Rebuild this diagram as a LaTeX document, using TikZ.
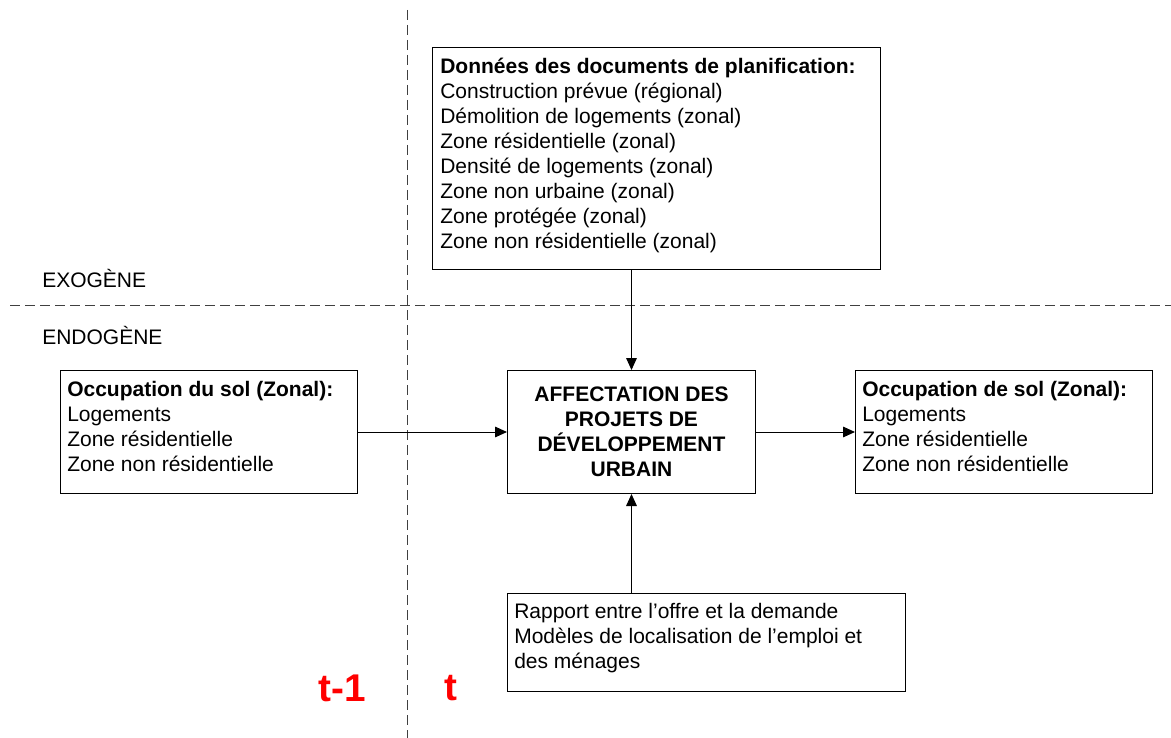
\documentclass[tikz,border=0pt]{standalone}
\usepackage{fontspec}
\setmainfont{Liberation Sans}
\usetikzlibrary{positioning, arrows.meta}

\begin{document}
\begin{tikzpicture}[x=0.75pt, y=-0.75pt,
    box/.style={draw=black, line width=0.75pt, anchor=north west, inner sep=0pt},
    boxtext/.style={anchor=north west, align=left, inner sep=0pt, font=\fontsize{15.75}{18.75}\selectfont},
    zonelabel/.style={anchor=west, inner sep=0pt, font=\fontsize{15.75}{18.75}\selectfont},
    divider/.style={draw=black!75, line width=0.75pt, dash pattern=on 7.5pt off 3.75pt},
    flow/.style={-{Triangle[length=9pt, width=8pt]}, line width=0.75pt},
    timelabel/.style={text=red, inner sep=0pt, font=\bfseries\fontsize{29}{31}\selectfont}]
    \useasboundingbox (0,0) rectangle (1171,738);

    \coordinate (vtop) at (407,10);
    \coordinate (vbot) at (407,738);
    \coordinate (hleft) at (10,305);
    \coordinate (hright) at (1171,305);
    \draw[divider] (vtop) -- (vbot);
    \draw[divider] (hleft) -- (hright);

    \node[zonelabel] (exo) at (42,278) {EXOGÈNE};
    \node[zonelabel] (endo) at (42,335) {ENDOGÈNE};

    \node[box, minimum width=336pt, minimum height=166.5pt] (plan) at (432,47) {};
    \node[boxtext] (plantext) at ([shift={(8,11)}]plan.north west) {\textbf{Données des documents de planification:}\\
        Construction prévue (régional)\\
        Démolition de logements (zonal)\\
        Zone résidentielle (zonal)\\
        Densité de logements (zonal)\\
        Zone non urbaine (zonal)\\
        Zone protégée (zonal)\\
        Zone non résidentielle (zonal)};

    \node[box, minimum width=222.75pt, minimum height=92.25pt] (occsol) at (60,370) {};
    \node[boxtext] (occsoltext) at ([shift={(7,11)}]occsol.north west) {\textbf{Occupation du sol (Zonal):}\\
        Logements\\
        Zone résidentielle\\
        Zone non résidentielle};

    \node[box, minimum width=186pt, minimum height=92.25pt, align=center, font=\bfseries\fontsize{15.75}{18.75}\selectfont] (centre) at (507,370) {AFFECTATION DES\\PROJETS DE\\DÉVELOPPEMENT\\URBAIN};

    \node[box, minimum width=222.75pt, minimum height=92.25pt] (occfin) at (855,370) {};
    \node[boxtext] (occfintext) at ([shift={(7,11)}]occfin.north west) {\textbf{Occupation de sol (Zonal):}\\
        Logements\\
        Zone résidentielle\\
        Zone non résidentielle};

    \node[box, minimum width=298.5pt, minimum height=73.5pt] (driver) at (507,593) {};
    \node[boxtext] (drivertext) at ([shift={(7,10)}]driver.north west) {Rapport entre l’offre et la demande\\
        Modèles de localisation de l’emploi et\\
        des ménages};

    \node[timelabel] (tprev) at (342,688) {t-1};
    \node[timelabel] (tnow) at (451,688) {t};

    \draw[flow] (centre.north |- plan.south) -- (centre.north);
    \draw[flow] (centre.south |- driver.north) -- (centre.south);
    \draw[flow] (occsol.east) -- (centre.west);
    \draw[flow] (centre.east) -- (occfin.west);
\end{tikzpicture}
\end{document}
